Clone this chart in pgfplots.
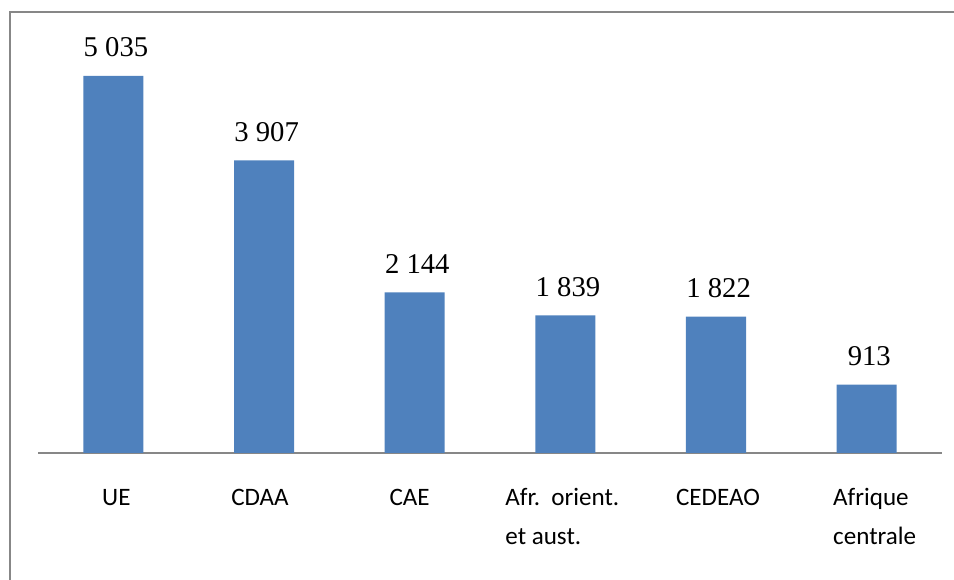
\documentclass[border=0pt]{standalone}
\usepackage{fontspec}
\setmainfont{Carlito}
\newfontfamily\timesfont{Liberation Serif}
\usepackage{pgfplots}
\pgfplotsset{compat=1.18}
\definecolor{barblue}{HTML}{4F81BD}
\definecolor{framegray}{HTML}{878787}
\newcommand{\lf}{\fontsize{18.8}{29.25}\selectfont\strut}
\begin{document}
\begin{tikzpicture}
\path[use as bounding box] (0,0) rectangle (715.5pt,435pt);
\draw[framegray, line width=1.3pt] (7.5pt,0) -- (7.5pt,426pt) -- (715.5pt,426pt);
\begin{axis}[
  at={(28.5pt,95.25pt)}, anchor=south west,
  scale only axis,
  width=678pt, height=330.75pt,
  xmin=-0.5, xmax=5.5,
  ymin=0, ymax=5889,
  axis x line*=bottom,
  axis y line=none,
  x axis line style={-, framegray, line width=1.3pt},
  xtick={0,1,2,3,4,5},
  xticklabels={\lf UE, \lf CDAA, \lf CAE, {\lf Afr.~~orient.\\\lf et aust.}, \lf CEDEAO, {\lf Afrique\\\lf centrale}},
  xtick style={draw=none},
  x tick label style={font=\fontsize{18.8}{29.25}\selectfont, align=left, anchor=north, inner sep=0pt, yshift=-14.5pt,
    xshift={{3,-4,-5,-3,2,8}[\ticknum]*0.75pt}},
  ytick=\empty,
  ybar, bar width=45pt,
  point meta=explicit symbolic,
  nodes near coords,
  every node near coord/.append style={font=\timesfont\fontsize{21.5}{24}\selectfont, anchor=base, inner sep=0pt, yshift=14.25pt, xshift=2pt, text=black},
  clip=false,
]
\addplot[fill=barblue, draw=none] coordinates {
  (0,5035) [5 035]
  (1,3907) [3 907]
  (2,2144) [2 144]
  (3,1839) [1 839]
  (4,1822) [1 822]
  (5,913) [913]
};
\end{axis}
\end{tikzpicture}
\end{document}
